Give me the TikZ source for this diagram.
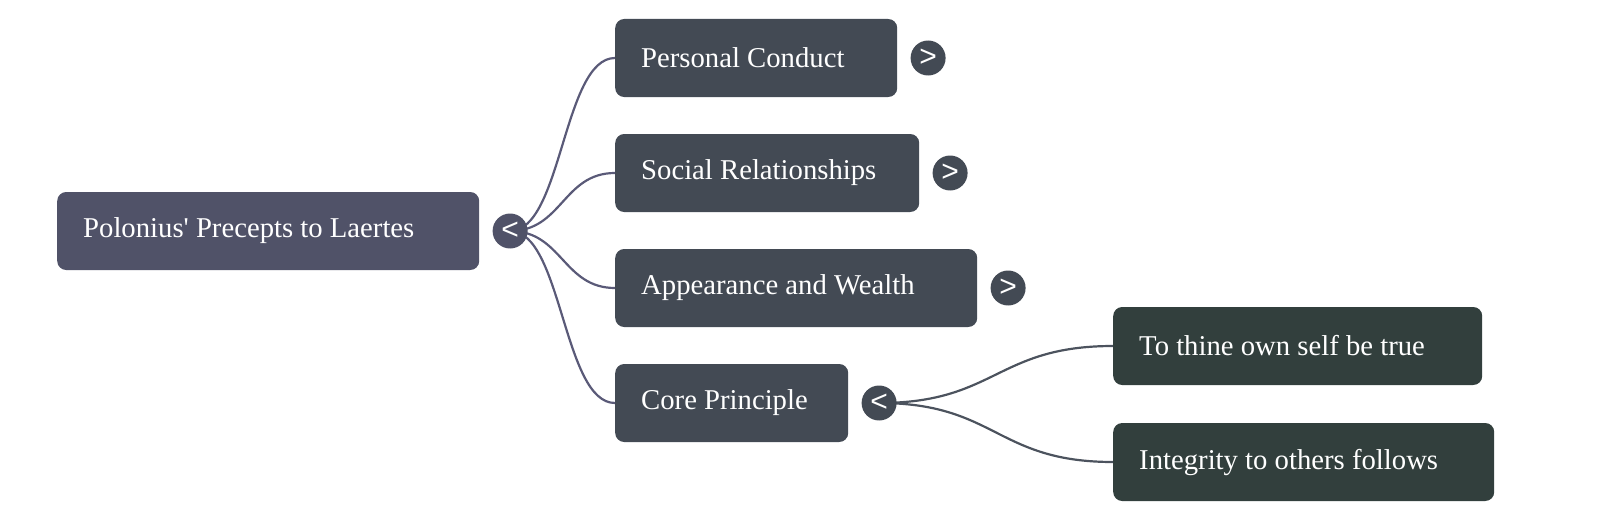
\documentclass[tikz,border=0pt]{standalone}
\usepackage{fontspec}
\setmainfont{Liberation Serif}
\newfontfamily\chevfont{Liberation Sans}
\usetikzlibrary{positioning,backgrounds}
\definecolor{rootfill}{HTML}{505268}
\definecolor{branchfill}{HTML}{434A54}
\definecolor{leaffill}{HTML}{323F3D}
\definecolor{rootlink}{HTML}{5A5A78}
\definecolor{branchlink}{HTML}{4C535E}

\begin{document}
\begin{tikzpicture}[
    x=1pt, y=-1pt,
    card/.style={rectangle, rounded corners=9pt, anchor=west, text=white, inner xsep=26pt,
                 minimum height=78pt, text width=#1, align=flush left, font=\fontsize{28.7}{34}\selectfont},
    toggle/.style={circle, fill=#1, text=white, inner sep=0pt, minimum size=35pt,
                   font=\chevfont\fontsize{30}{30}\selectfont},
    link/.style={line width=2.2pt}
]
    \useasboundingbox (0,0) rectangle (1600,519);

    % Root
    \node[card=370pt, fill=rootfill] (root) at (57,231) {Polonius\textquotesingle{} Precepts to Laertes};
    \node[toggle=rootfill, right=13pt of root] (roott) {<};

    % First level
    \node[card=230pt, fill=branchfill] (conduct) at (615,58) {Personal Conduct};
    \node[card=252pt, fill=branchfill] (social) at (615,173) {Social Relationships};
    \node[card=310pt, fill=branchfill] (wealth) at (615,288) {Appearance and Wealth};
    \node[card=181pt, fill=branchfill] (core) at (615,403) {Core Principle};
    \node[toggle=branchfill, right=13pt of conduct] (conductt) {>};
    \node[toggle=branchfill, right=13pt of social] (socialt) {>};
    \node[toggle=branchfill, right=13pt of wealth] (wealtht) {>};
    \node[toggle=branchfill, right=13pt of core] (coret) {<};

    % Second level
    \node[card=317pt, fill=leaffill] (self) at (1113,346) {To thine own self be true};
    \node[card=329pt, fill=leaffill] (others) at (1113,462) {Integrity to others follows};

    % Links
    \begin{scope}[on background layer]
        \foreach \n in {conduct,social,wealth,core} {
            \draw[link, rootlink] (roott.center) .. controls +(52,0) and +(-52,0) .. (\n.west);
        }
        \foreach \n in {self,others} {
            \draw[link, branchlink] (coret.center) .. controls +(117,0) and +(-117,0) .. (\n.west);
        }
    \end{scope}
\end{tikzpicture}
\end{document}
